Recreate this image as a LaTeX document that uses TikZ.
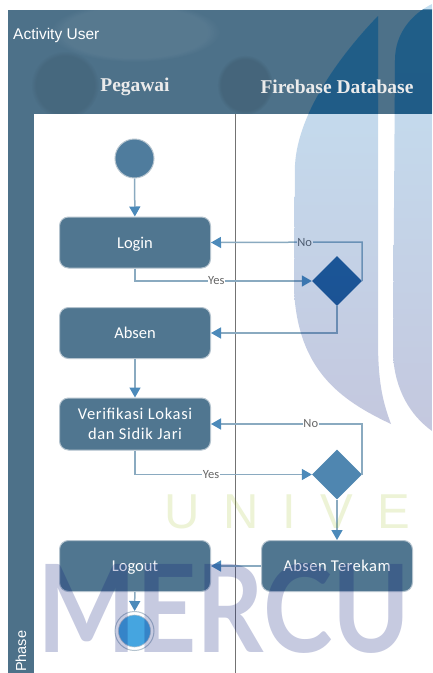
\documentclass[tikz,border=0pt]{standalone}
\usepackage{fontspec}
\usepackage{graphicx}
\setmainfont{Carlito}
\newfontfamily\hdfont{Liberation Serif}
\newfontfamily\arialfont{Liberation Sans}
\newfontfamily\wmfont{Lato}
\usetikzlibrary{arrows.meta,shapes.geometric,calc,fadings}
\definecolor{bandc}{HTML}{4D7189}
\definecolor{boxc}{HTML}{507690}
\definecolor{edgec}{HTML}{B4C3CE}
\definecolor{linec}{HTML}{8AAAC0}
\definecolor{tipc}{HTML}{4C8ABA}
\definecolor{wmtop}{RGB}{0,121,195}
\definecolor{wmbot}{RGB}{0,18,117}
\definecolor{wmgreen}{RGB}{144,181,0}
\definecolor{dia1}{HTML}{245E98}
\definecolor{dia2}{HTML}{4F86B0}
\definecolor{endc}{HTML}{45A5E0}
\definecolor{deepc}{HTML}{0B4F7E}
\newcommand{\dropleft}{(378,16) .. controls (345,50) and (298,110) .. (295,165)
  -- (294,290) .. controls (298,370) and (340,400) .. (391,424)
  .. controls (382,400) and (378,380) .. (378,340) -- cycle}
\newcommand{\dropright}{(432,4) .. controls (410,15) and (395,35) .. (395,60)
  -- (393,355) .. controls (395,390) and (410,415) .. (432,431) -- cycle}
\tikzset{
  x=1pt,y=-1pt,
  actbox/.style={draw=edgec,line width=1pt,fill=boxc,rounded corners=9pt,minimum width=151pt,minimum height=51pt,inner sep=0pt,text=white,font=\fontsize{16.5}{20}\selectfont,align=center,text height=11pt,text depth=0pt},
  deci/.style={diamond,aspect=1,inner sep=0pt,minimum size=50pt,draw=none},
  flow/.style={draw=linec,line width=1.5pt,-{Triangle[length=10pt,width=11pt,color=tipc]}},
  lab/.style={fill=white,inner sep=0.5pt,text=black!60,font=\fontsize{12.5}{13}\selectfont},
  startc/.style={circle,draw=edgec,line width=1pt,fill=boxc!70!tipc,minimum size=39pt,inner sep=0pt},
  lanehead/.style={text=white!92!black,font=\hdfont\bfseries\fontsize{19.5}{22}\selectfont,inner sep=0pt},
  drop/.style={top color=wmtop,bottom color=wmbot,opacity=.23},
  fuzz/.style={path fading=circle with fuzzy edge 15 percent}
}
\begin{document}
\begin{tikzpicture}
\useasboundingbox (0,0) rectangle (432,673);
\fill[white] (0,0) rectangle (432,673);
% pool frame
\fill[bandc] (8,9.5) rectangle (432,113.5);
\fill[bandc] (8,9.5) rectangle (34,673);
\draw[black!55,line width=.8pt] (235.5,113.5) -- (235.5,673);
% nodes
\node[startc] (start) at (134.5,158.5) {};
\node[actbox] (login) at (135,242.5) {Login};
\node[actbox] (absen) at (135,333) {Absen};
\node[actbox,minimum height=52pt,text height=,text depth=,font=\fontsize{16.5}{20}\selectfont\addfontfeature{LetterSpace=4}] (verif) at (135,424) {Verifikasi Lokasi\\dan Sidik Jari};
\node[actbox] (logout) at (135,566) {Logout};
\node[actbox,font=\fontsize{16.5}{20}\selectfont\addfontfeature{LetterSpace=3}] (terekam) at (337,566) {Absen Terekam};
\node[deci,fill=dia1] (d1) at (337,281) {};
\node[deci,fill=dia2] (d2) at (337,474.5) {};
\node[circle,draw=edgec,line width=1pt,fill=white,minimum size=39pt,inner sep=0pt] (stop) at (134.5,631) {};
\node[circle,fill=endc,draw=edgec,line width=.6pt,minimum size=32pt,inner sep=0pt] (stopin) at (134.5,631) {};
% connectors
\draw[flow] (start) -- (login);
\draw[flow] (login.south) |- (d1.west) node[lab,pos=.73] {Yes};
\draw[flow] (d1.east) -- ++(0,-39) -- (login.east) node[lab,pos=.38] {No};
\draw[flow] (d1.south) |- (absen.east);
\draw[flow] (absen) -- (verif);
\draw[flow] (verif.south) |- (d2.west) node[lab,pos=.715] {Yes};
\draw[flow] (d2.east) -- ++(0,-50.5) -- (verif.east) node[lab,pos=.34] {No};
\draw[flow] (d2) -- (terekam);
\draw[flow] (terekam) -- (logout);
\draw[flow] (logout) -- (stop);
% watermark
\shade[drop] \dropleft;
\shade[drop] \dropright;
\begin{scope}
\clip (8,9.5) rectangle (432,113.5);
\fill[deepc,opacity=.55] \dropleft;
\fill[deepc,opacity=.55] \dropright;
\end{scope}
\node[text=wmgreen,text opacity=.16,font=\arialfont\fontsize{49}{50}\selectfont,anchor=base west,inner sep=0pt] (wm1) at (164,528) {\spaceskip=24pt U N I V E};
\node[text=wmbot,text opacity=.224,font=\wmfont\bfseries,anchor=base west,inner sep=0pt] (wm2) at (37,652) {\resizebox{373pt}{89pt}{MERCU}};
% header mottling
\begin{scope}
\clip (8,9.5) rectangle (432,113.5);
\fill[black,opacity=.08,fuzz] (65,85) ellipse [x radius=34,y radius=34];
\fill[black,opacity=.10,fuzz] (245,85) ellipse [x radius=28,y radius=30];
\fill[white,opacity=.06,fuzz] (135,32) ellipse [x radius=85,y radius=30];
\end{scope}
% pool texts
\node[text=white,anchor=west,inner sep=0pt,font=\arialfont\fontsize{15.5}{17}\selectfont] (title) at (13,35.5) {Activity User};
\node[lanehead] (lane1) at (135,87) {Pegawai};
\node[lanehead] (lane2) at (337,87) {Firebase Database};
\node[text=white,rotate=90,anchor=west,inner sep=0pt,font=\arialfont\fontsize{14.5}{16}\selectfont] (phase) at (21,672) {Phase};
\end{tikzpicture}
\end{document}
